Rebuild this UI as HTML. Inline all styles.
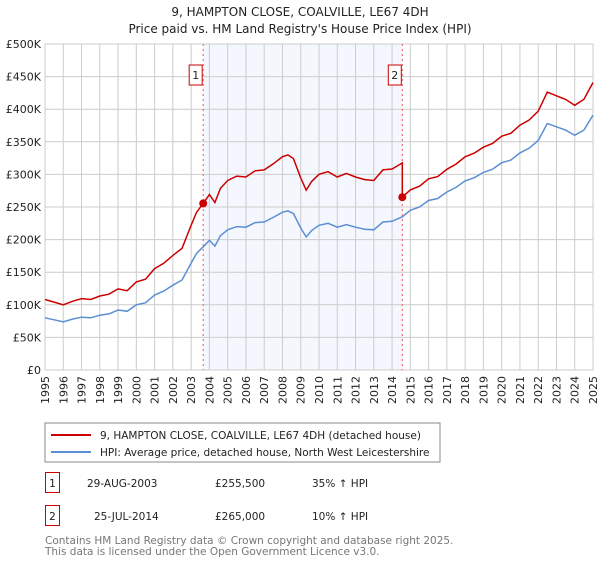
<!DOCTYPE html>
<html><head><meta charset="utf-8"><style>
body{margin:0;background:#fff;font-family:"DejaVu Sans","Liberation Sans",sans-serif;}
svg text{font-family:"DejaVu Sans","Liberation Sans",sans-serif;}
</style></head><body>
<svg width="600" height="560" viewBox="0 0 600 560" id="chart">
<text x="300" y="16" text-anchor="middle" font-size="12" fill="#222">9, HAMPTON CLOSE, COALVILLE, LE67 4DH</text>
<text x="300" y="33" text-anchor="middle" font-size="12" fill="#222">Price paid vs. HM Land Registry's House Price Index (HPI)</text>
<g id="plot"></g>
<rect x="45" y="423" width="395" height="39" fill="#fff" stroke="#888"/>
<line x1="51" y1="435" x2="91" y2="435" stroke="#cc0000" stroke-width="2"/>
<text x="100" y="439" font-size="10.5" fill="#222">9, HAMPTON CLOSE, COALVILLE, LE67 4DH (detached house)</text>
<line x1="51" y1="452" x2="91" y2="452" stroke="#5b8fd4" stroke-width="2"/>
<text x="100" y="456" font-size="10.5" fill="#222">HPI: Average price, detached house, North West Leicestershire</text>
<g>
<rect x="45.5" y="472.5" width="14" height="20" fill="#fff" stroke="#cc0000"/>
<text x="52.5" y="487" text-anchor="middle" font-size="10.5" fill="#222">1</text>
<text x="87" y="487" font-size="10.5" fill="#222">29-AUG-2003</text>
<text x="215" y="487" font-size="10.5" fill="#222">£255,500</text>
<text x="312" y="487" font-size="10.5" fill="#222">35% ↑ HPI</text>
</g>
<g>
<rect x="45.5" y="505.5" width="14" height="20" fill="#fff" stroke="#cc0000"/>
<text x="52.5" y="520" text-anchor="middle" font-size="10.5" fill="#222">2</text>
<text x="94" y="520" font-size="10.5" fill="#222">25-JUL-2014</text>
<text x="215" y="520" font-size="10.5" fill="#222">£265,000</text>
<text x="312" y="520" font-size="10.5" fill="#222">10% ↑ HPI</text>
</g>
<text x="45" y="544" font-size="10.5" fill="#777">Contains HM Land Registry data © Crown copyright and database right 2025.</text>
<text x="45" y="555" font-size="10.5" fill="#777">This data is licensed under the Open Government Licence v3.0.</text>
</svg>
<script>
const hpiYears=[1995,1995.5,1996,1996.5,1997,1997.5,1998,1998.5,1999,1999.5,2000,2000.5,2001,2001.5,2002,2002.5,2003,2003.3,2003.66,2004,2004.3,2004.6,2005,2005.5,2006,2006.5,2007,2007.5,2008,2008.3,2008.6,2009,2009.3,2009.6,2010,2010.5,2011,2011.5,2012,2012.5,2013,2013.5,2014,2014.56,2015,2015.5,2016,2016.5,2017,2017.5,2018,2018.5,2019,2019.5,2020,2020.5,2021,2021.5,2022,2022.5,2023,2023.5,2024,2024.5,2025];
const hpiValues=[80,77,74,78,81,80,84,86,92,90,100,103,115,121,130,138,164,179,189,199,190,206,215,220,219,226,227,234,242,244,240,218,204,214,222,225,219,223,219,216,215,227,228,235,245,250,260,263,273,280,290,295,303,308,318,322,333,340,352,378,373,368,360,368,391];
const saleYears=[2003.66,2014.56];
const saleValues=[255.5,265];
const yTicks=[0,50,100,150,200,250,300,350,400,450,500];
const yTickLabels=["£0","£50K","£100K","£150K","£200K","£250K","£300K","£350K","£400K","£450K","£500K"];
const xYears=[1995,1996,1997,1998,1999,2000,2001,2002,2003,2004,2005,2006,2007,2008,2009,2010,2011,2012,2013,2014,2015,2016,2017,2018,2019,2020,2021,2022,2023,2024,2025];

const NS="http://www.w3.org/2000/svg";
const X0=45,X1=593,Y0=370,Y1=44;
const xs=y=>X0+(y-1995)/30*(X1-X0);
const ys=v=>Y0-v/500*(Y0-Y1);
const g=document.getElementById('plot');
function mk(t,a){const e=document.createElementNS(NS,t);for(const k in a)e.setAttribute(k,a[k]);g.appendChild(e);return e;}
let e;
e=mk('rect',{x:xs(saleYears[0]),y:Y1,width:xs(saleYears[1])-xs(saleYears[0]),height:Y0-Y1,fill:'#f4f7fd'});


for(const yr of xYears){e=mk('line',{x1:xs(yr),x2:xs(yr),y1:Y1,y2:Y0,stroke:'#ccc','stroke-width':1});


e=mk('text',{x:0,y:0,transform:`translate(${xs(yr)+4},${Y0+6}) rotate(-90)`,'text-anchor':'end','font-size':11,fill:'#222'});e.textContent=yr;

}
yTicks.forEach((v,i)=>{e=mk('line',{x1:X0,x2:X1,y1:ys(v),y2:ys(v),stroke:'#ccc','stroke-width':1});


e=mk('text',{x:X0-4,y:ys(v)+4,'text-anchor':'end','font-size':11,fill:'#222'});e.textContent=yTickLabels[i];

});
e=mk('rect',{x:X0,y:Y1,width:X1-X0,height:Y0-Y1,fill:'none',stroke:'#ccc'});


saleYears.forEach((s,i)=>{e=mk('line',{x1:xs(s),x2:xs(s),y1:Y1,y2:Y0,stroke:'#ee5555','stroke-dasharray':'2,3','stroke-width':1});


e=mk('rect',{x:xs(s)-14,y:65,width:13,height:20,fill:'#fff',stroke:'#cc0000'});


e=mk('text',{x:xs(s)-7.5,y:79,'text-anchor':'middle','font-size':11,fill:'#222'});e.textContent=i+1;

});
const r0=saleValues[0]/hpiValues[hpiYears.indexOf(saleYears[0])];
const r1=saleValues[1]/hpiValues[hpiYears.indexOf(saleYears[1])];
const red=hpiYears.map((yr,i)=>hpiValues[i]*(yr<saleYears[1]?r0:r1));
let pb='',pr='';
hpiYears.forEach((yr,i)=>{pb+=(i?'L':'M')+xs(yr).toFixed(1)+','+ys(hpiValues[i]).toFixed(1);
 if(yr===saleYears[1]){pr+='L'+xs(yr).toFixed(1)+','+ys(hpiValues[i]*r0).toFixed(1);}
 pr+=(i?'L':'M')+xs(yr).toFixed(1)+','+ys(red[i]).toFixed(1);});
e=mk('path',{d:pb,fill:'none',stroke:'#5b8fd4','stroke-width':1.5});


e=mk('path',{d:pr,fill:'none',stroke:'#cc0000','stroke-width':1.5});


saleYears.forEach((s,i)=>{e=mk('circle',{cx:xs(s),cy:ys(saleValues[i]),r:4,fill:'#cc0000'});

});
</script>
</body></html>
